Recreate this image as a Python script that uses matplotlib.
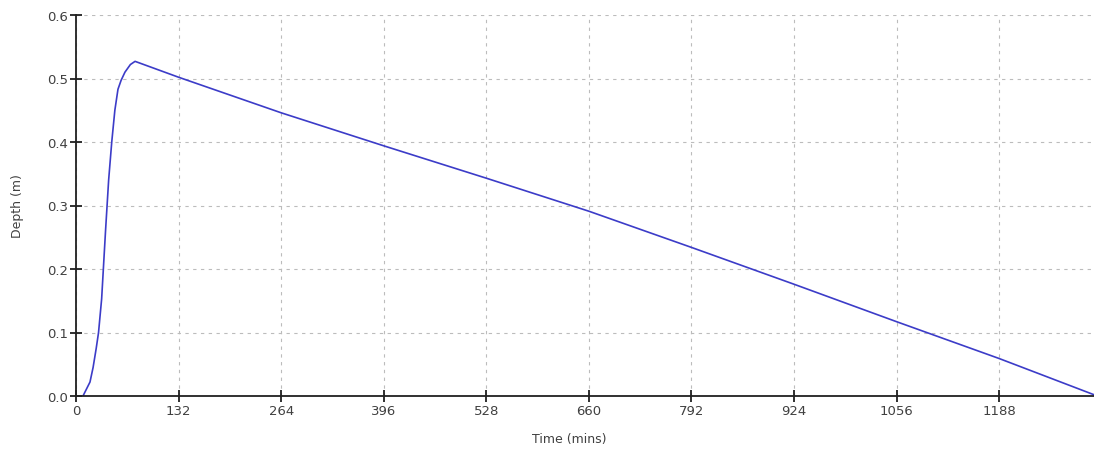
import numpy as np
import matplotlib.pyplot as plt

# Hidrograma de profundidad
tiempo = [9, 18, 22, 26, 29, 33, 38, 42, 46, 50, 54, 58, 63, 70, 76,
          132, 264, 396, 528, 660, 792, 924, 1056, 1188, 1310]
profundidad = [0.0, 0.022, 0.045, 0.075, 0.1, 0.153, 0.26, 0.34, 0.40, 0.45,
               0.483, 0.497, 0.51, 0.522, 0.527,
               0.502, 0.446, 0.394, 0.343, 0.291, 0.234, 0.176, 0.117, 0.059, 0.002]

xticks = [0, 132, 264, 396, 528, 660, 792, 924, 1056, 1188]
yticks = [0.0, 0.1, 0.2, 0.3, 0.4, 0.5, 0.6]

fig = plt.figure(figsize=(10.94, 4.52), dpi=100)
ax = fig.add_axes([76 / 1094, 1 - 397 / 452, 1 - 76 / 1094, (397 - 16) / 452])

ax.plot(tiempo, profundidad, color='#3c3cc8', linewidth=1.2)

ax.set_xlim(0, 1310)
ax.set_ylim(0, 0.6)
ax.set_xticks(xticks)
ax.set_yticks(yticks)
ax.set_yticklabels(['%.1f' % v for v in yticks])

# Estilo de ejes
for lado in ['top', 'right']:
    ax.spines[lado].set_visible(False)
for lado in ['left', 'bottom']:
    ax.spines[lado].set_linewidth(1.3)
    ax.spines[lado].set_color('#202020')
ax.tick_params(direction='inout', length=9, width=1.3, color='#202020',
               labelsize=9.5, labelcolor='#404040', pad=1)

ax.grid(True, color='#bcbcbc', linestyle=(0, (3, 4)), linewidth=0.8)

ax.set_xlabel('Time (mins)', fontsize=9, color='#404040')
ax.set_ylabel('Depth (m)', fontsize=9, color='#404040')
ax.xaxis.set_label_coords((569 - 76) / (1094 - 76), -0.095)
ax.yaxis.set_label_coords(-(76 - 24) / (1094 - 76), 0.5)

fig.savefig('out.png', dpi=100)
